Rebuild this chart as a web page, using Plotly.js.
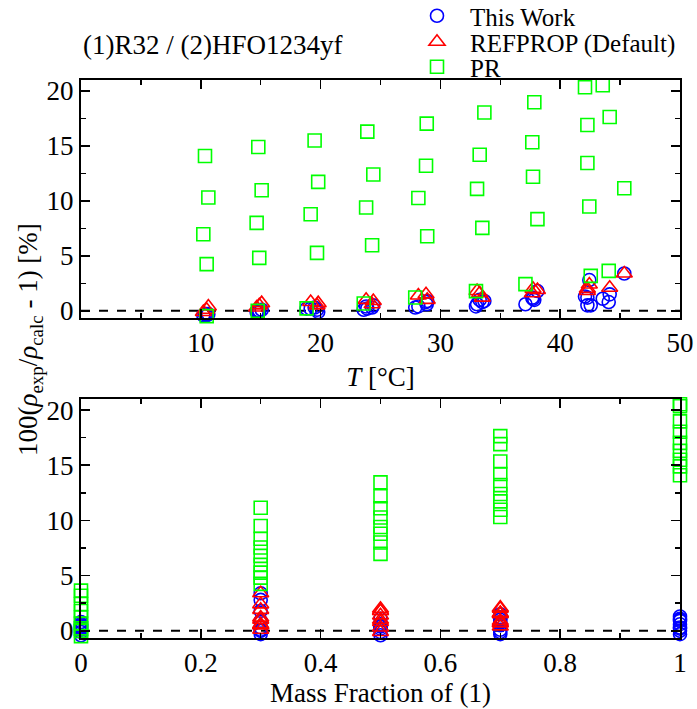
<!DOCTYPE html>
<html>
<head>
<meta charset="utf-8">
<script src="https://cdn.plot.ly/plotly-3.0.1.min.js"></script>
<style>html,body{margin:0;padding:0;background:#fff;}#chart{width:697px;height:709px;}</style>
</head>
<body>
<div id="chart"></div>
<script>
// Temperature [°C] of each measured point
var temperature = [
  10.35, 10.63, 10.21, 10.49, 10.49,
  14.80, 15.08, 14.66, 14.88, 14.75,
  19.50, 19.80, 19.17, 19.70, 18.83,
  23.90, 24.40, 23.80, 24.30, 23.60,
  28.86, 28.80, 28.16, 28.90, 27.90,
  33.67, 33.28, 33.06, 33.50, 32.97,
  37.84, 37.67, 37.73, 38.10, 37.10,
  42.07, 43.55, 42.27, 44.13, 42.27, 42.43, 45.35, 42.55, 44.05
];
// Mass fraction of (1) R32 for each point
var massFraction = [
  1, 0.7, 0.5, 0.3, 0,
  1, 0.7, 0.5, 0.3, 0,
  1, 0.7, 0.5, 0.3, 0,
  1, 0.7, 0.5, 0.3, 0,
  1, 0.7, 0.5, 0.3, 0,
  1, 0.7, 0.5, 0.3, 0,
  1, 0.7, 0.5, 0.3, 0,
  1, 1, 0.7, 0.7, 0.5, 0.3, 0.3, 0, 0
];
// Deviations 100(rho_exp/rho_calc - 1) [%]
var devThisWork = [
  -0.3, -0.3, -0.4, -0.3, -0.4,
  0.0, 0.1, -0.1, 0.0, -0.1,
  0.3, -0.1, 0.2, 0.1, 0.2,
  0.2, 0.5, 0.4, 0.3, 0.1,
  0.6, 0.8, 0.4, 0.9, 0.3,
  0.9, 1.0, 0.6, 0.8, 0.4,
  1.0, 1.2, 1.1, 1.8, 0.6,
  1.3, 1.1, 1.2, 1.5, 0.5, 2.8, 3.4, 0.5, 0.8
];
var devRefprop = [
  null, 0.4, -0.1, 0.1, null,
  null, 0.7, 0.3, 0.5, null,
  null, 0.7, 0.8, 0.5, null,
  null, 0.9, 1.0, 0.6, null,
  null, 1.5, 1.4, 1.0, null,
  null, 1.6, 1.8, 1.2, null,
  null, 1.6, 2.0, 1.9, null,
  null, null, 2.0, 2.1, 1.8, 2.4, 3.4, null, null
];
var devPR = [
  14.09, 10.31, 6.97, 4.25, -0.48,
  14.90, 10.97, 8.00, 4.82, 0.00,
  15.50, 11.73, 8.79, 5.27, 0.22,
  16.30, 12.40, 9.40, 5.97, 0.67,
  17.03, 13.20, 10.27, 6.79, 1.22,
  18.04, 14.20, 11.10, 7.55, 1.79,
  18.97, 15.34, 12.20, 8.34, 2.43,
  20.34, 20.52, 16.91, 17.64, 13.45, 9.49, 11.15, 3.18, 3.64
];
var seriesNames = ['This Work', 'REFPROP (Default)', 'PR'];
var xTopTicks = [10, 20, 30, 40, 50];

var FONT = 'Liberation Serif';
var series = [
  {name: seriesNames[0], y: devThisWork, symbol: 'circle-open', color: '#0000ff', size: 13, legend: 'legend'},
  {name: seriesNames[1], y: devRefprop, symbol: 'triangle-up-open', color: '#ff0000', size: 14, legend: 'legend2'},
  {name: seriesNames[2], y: devPR, symbol: 'square-open', color: '#00ff00', size: 13, legend: 'legend3'}
];
var traces = [];
series.forEach(function (s) {
  traces.push({
    type: 'scatter', mode: 'markers', name: s.name, x: temperature, y: s.y,
    xaxis: 'x', yaxis: 'y', legend: s.legend, showlegend: true, cliponaxis: false,
    marker: {symbol: s.symbol, size: s.size, color: s.color, line: {color: s.color, width: 1.6}}
  });
});
series.forEach(function (s) {
  traces.push({
    type: 'scatter', mode: 'markers', name: s.name, x: massFraction, y: s.y,
    xaxis: 'x2', yaxis: 'y2', showlegend: false, cliponaxis: false,
    marker: {symbol: s.symbol, size: s.size, color: s.color, line: {color: s.color, width: 1.6}}
  });
});

function axisBase() {
  return {
    showline: true, linecolor: '#000', linewidth: 2, mirror: 'ticks',
    ticks: 'inside', ticklen: 9, tickwidth: 1.5, tickcolor: '#000',
    showgrid: false, zeroline: false, automargin: false,
    tickfont: {family: FONT, size: 27, color: '#000'}
  };
}
var xa = axisBase();
Object.assign(xa, {domain: [0, 1], anchor: 'y', range: [0, 50], tickmode: 'array', tickvals: xTopTicks,
  minor: {ticks: 'inside', ticklen: 5, tickwidth: 1.5, tickcolor: '#000', tickmode: 'linear', tick0: 0, dtick: 5},
  title: {text: '<i>T</i> [°C]', font: {family: FONT, size: 27, color: '#000'}, standoff: 10}});
var ya = axisBase();
Object.assign(ya, {domain: [0.5735, 1], anchor: 'x', range: [-0.65, 21], tick0: 0, dtick: 5,
  minor: {ticks: 'inside', ticklen: 5, tickwidth: 1.5, tickcolor: '#000', tickmode: 'linear', tick0: 0, dtick: 2.5}});
var xa2 = axisBase();
Object.assign(xa2, {domain: [0, 1], anchor: 'y2', range: [0, 1], tick0: 0, dtick: 0.2,
  minor: {ticks: 'inside', ticklen: 5, tickwidth: 1.5, tickcolor: '#000', tickmode: 'linear', tick0: 0, dtick: 0.1},
  title: {text: 'Mass Fraction of (1)', font: {family: FONT, size: 27, color: '#000'}, standoff: 4}});
var ya2 = axisBase();
Object.assign(ya2, {domain: [0, 0.4283], anchor: 'x2', range: [-0.65, 21], tick0: 0, dtick: 5,
  minor: {ticks: 'inside', ticklen: 5, tickwidth: 1.5, tickcolor: '#000', tickmode: 'linear', tick0: 0, dtick: 2.5}});

function legendAt(yPx) {
  return {x: 404 / 697, xref: 'container', xanchor: 'left', y: 1 - yPx / 709, yref: 'container', yanchor: 'middle',
    bgcolor: 'rgba(0,0,0,0)', borderwidth: 0, itemwidth: 56,
    font: {family: FONT, size: 25, color: '#000'}};
}

var layout = {
  width: 697, height: 709,
  margin: {l: 81, r: 17, t: 80, b: 71, autoexpand: false},
  paper_bgcolor: '#fff', plot_bgcolor: '#fff',
  font: {family: FONT, color: '#000'},
  title: {text: '(1)R32 / (2)HFO1234yf', xref: 'container', yref: 'container', x: 83 / 697, xanchor: 'left',
    y: 1 - 45 / 709, yanchor: 'middle', font: {family: FONT, size: 27, color: '#000'}},
  xaxis: xa, yaxis: ya, xaxis2: xa2, yaxis2: ya2,
  legend: legendAt(16), legend2: legendAt(42), legend3: legendAt(67),
  shapes: [
    {type: 'line', xref: 'x', yref: 'y', x0: 0, x1: 50, y0: 0, y1: 0, line: {color: '#000', width: 2, dash: 'dash'}, layer: 'below'},
    {type: 'line', xref: 'x2', yref: 'y2', x0: 0, x1: 1, y0: 0, y1: 0, line: {color: '#000', width: 2, dash: 'dash'}, layer: 'below'}
  ],
  annotations: [
    {text: '100(<i>ρ</i><sub>exp</sub>/<i>ρ</i><sub>calc</sub> - 1) [%]', textangle: -90,
      xref: 'paper', yref: 'paper', x: (30 - 81) / 599, y: 1 - (340 - 80) / 558, xanchor: 'center', yanchor: 'middle',
      showarrow: false, font: {family: FONT, size: 27, color: '#000'}}
  ]
};

Plotly.newPlot('chart', traces, layout, {displayModeBar: false, staticPlot: true});
</script>
</body>
</html>
